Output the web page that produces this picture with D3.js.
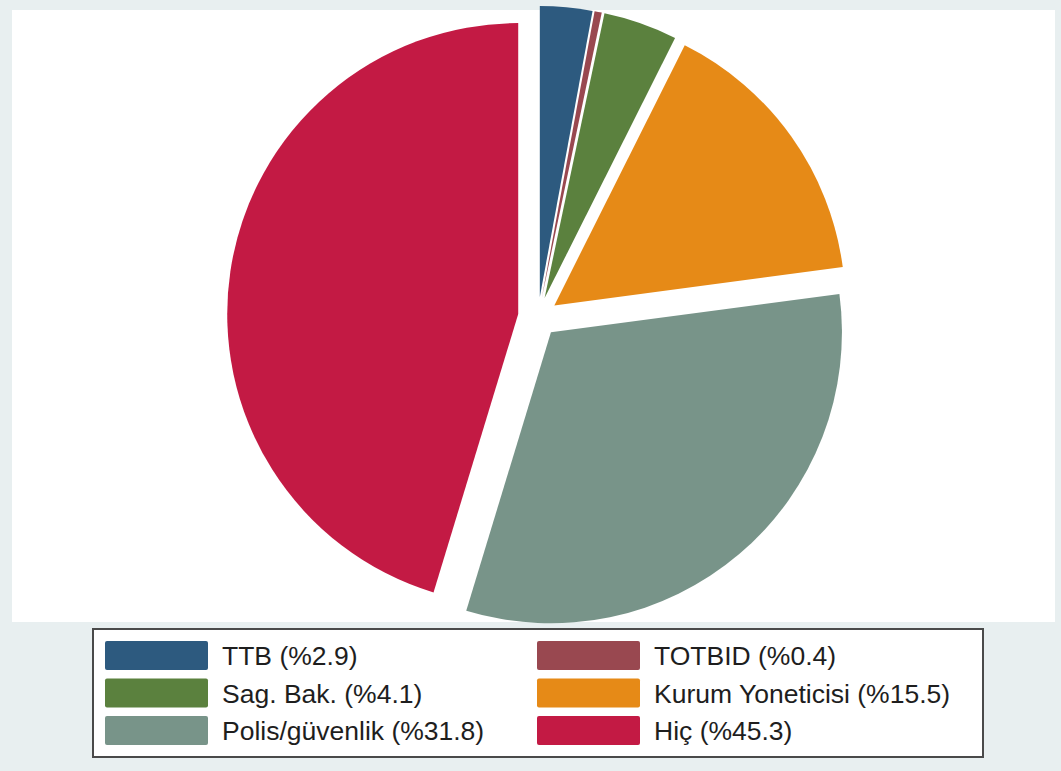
<!DOCTYPE html>
<html>
<head>
<meta charset="utf-8">
<script src="https://cdn.jsdelivr.net/npm/d3@7"></script>
<style>
  html, body { margin: 0; padding: 0; background: #e8eff0; }
  svg { display: block; }
</style>
</head>
<body>
<svg id="chart" width="1061" height="771"></svg>
<script>
const categories = ["TTB", "TOTBID", "Sag. Bak.", "Kurum Yoneticisi", "Polis/güvenlik", "Hiç"];
const values = [2.9, 0.4, 4.1, 15.5, 31.8, 45.3];
const colors = ["#2d5a7f", "#994850", "#5b813e", "#e68a17", "#789489", "#c31a44"];

const W = 1061, H = 771;
const svg = d3.select("#chart");

// outer background
svg.append("rect").attr("x", 0).attr("y", 0).attr("width", W).attr("height", H).attr("fill", "#e8eff0");
// plot region
svg.append("rect").attr("x", 12).attr("y", 10).attr("width", 1043).attr("height", 612).attr("fill", "#ffffff");

const cx = 538, cy = 317, r = 291, explode = 20;

const data = categories.map((c, i) => ({ label: c, value: values[i], color: colors[i] }));
const pie = d3.pie().sort(null).value(d => d.value).startAngle(0).endAngle(2 * Math.PI);
const arc = d3.arc().innerRadius(0).outerRadius(r);

const g = svg.append("g").attr("transform", `translate(${cx},${cy})`);
g.selectAll("path.slice")
  .data(pie(data))
  .join("path")
  .attr("class", "slice")
  .attr("d", arc)
  .attr("fill", d => d.data.color)
  .attr("transform", d => {
    const mid = (d.startAngle + d.endAngle) / 2;
    return `translate(${Math.sin(mid) * explode},${-Math.cos(mid) * explode})`;
  });

// legend
const legend = svg.append("g");
legend.append("rect")
  .attr("x", 93).attr("y", 629).attr("width", 890).attr("height", 128)
  .attr("fill", "#ffffff").attr("stroke", "#4a4a4a").attr("stroke-width", 2);

const colX = [105, 537];
const rowY = [641, 678.5, 716];
const items = legend.selectAll("g.item")
  .data(data)
  .join("g")
  .attr("class", "item")
  .attr("transform", (d, i) => `translate(${colX[i % 2]},${rowY[Math.floor(i / 2)]})`);

items.append("rect")
  .attr("width", 103).attr("height", 29).attr("rx", 2)
  .attr("fill", d => d.color);

items.append("text")
  .attr("x", 117).attr("y", 24)
  .attr("font-family", "Liberation Sans, Arial, sans-serif")
  .attr("font-size", 26.5)
  .attr("fill", "#1e1e1e")
  .text(d => `${d.label} (%${d.value.toFixed(1)})`);
</script>
</body>
</html>
